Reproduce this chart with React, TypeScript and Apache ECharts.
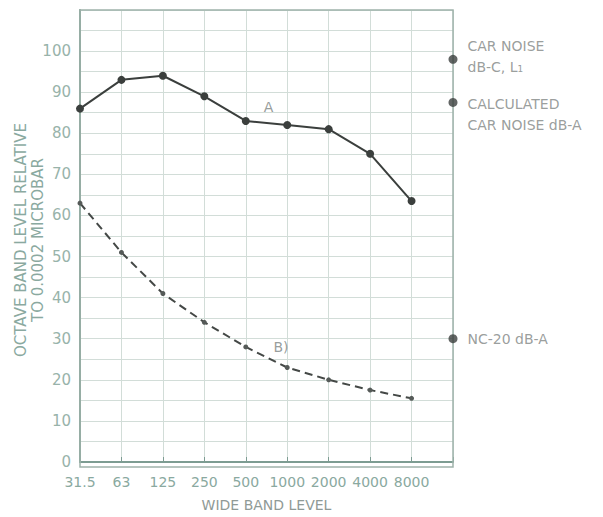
import React, { useEffect, useRef } from "react";
import * as echarts from "echarts";

const categories = ["31.5", "63", "125", "250", "500", "1000", "2000", "4000", "8000"];
const seriesA = [86, 93, 94, 89, 83, 82, 81, 75, 63.5];
const seriesB = [63, 51, 41, 34, 28, 23, 20, 17.5, 15.5];
const sideLabels = ["CAR NOISE\ndB-C, L₁", "CALCULATED\nCAR NOISE dB-A", "NC-20 dB-A"];
const sideValues = [98, 87.5, 30];
const yTicks = [0, 10, 20, 30, 40, 50, 60, 70, 80, 90, 100];
const annotations = [
  { text: "A", x: 4.55, y: 86.5 },
  { text: "B)", x: 4.85, y: 28 },
];

const TEXT = "#8aa9a0";
const AXIS = "#7d9c92";
const GRID = "#d2ddd8";
const FONT = "DejaVu Sans, sans-serif";

export default function App() {
  const ref = useRef<HTMLDivElement>(null);
  useEffect(() => {
    if (!ref.current) return;
    const chart = echarts.init(ref.current, undefined, { renderer: "svg" });
    chart.setOption({
      animation: false,
      backgroundColor: "#ffffff",
      textStyle: { fontFamily: FONT },
      grid: { left: 80, right: 150, top: 10, bottom: 50 },
      xAxis: {
        type: "value",
        min: 0,
        max: 9,
        interval: 1,
        name: "WIDE BAND LEVEL",
        nameLocation: "middle",
        nameGap: 36,
        nameTextStyle: { color: "#8f9a96", fontSize: 14, fontFamily: FONT },
        axisLine: { show: true, lineStyle: { color: AXIS, width: 2 } },
        axisTick: { show: true, length: 5, inside: true, lineStyle: { color: AXIS } },
        axisLabel: {
          color: TEXT,
          fontSize: 14,
          margin: 13,
          formatter: (v: number) => (categories[v] !== undefined ? categories[v] : ""),
        },
        splitLine: { show: true, lineStyle: { color: GRID, width: 1 } },
      },
      yAxis: {
        type: "value",
        min: 0,
        max: 110,
        interval: 5,
        axisLine: { show: true, lineStyle: { color: AXIS, width: 2 } },
        axisTick: { show: false },
        axisLabel: {
          color: "#98b3aa",
          fontSize: 15,
          margin: 9,
          formatter: (v: number) => (yTicks.includes(v) ? String(v) : ""),
        },
        splitLine: { show: true, lineStyle: { color: GRID, width: 1 } },
      },
      graphic: [
        {
          type: "rect",
          shape: { x: 80, y: 10, width: 373, height: 457 },
          style: { fill: "none", stroke: "#9fb2aa", lineWidth: 1.5 },
          silent: true,
          z: 1,
        },
        {
          type: "text",
          x: 21,
          y: 240,
          rotation: Math.PI / 2,
          style: {
            text: "OCTAVE BAND LEVEL RELATIVE",
            fill: TEXT,
            font: `15px ${FONT}`,
            align: "center",
            verticalAlign: "middle",
          },
        },
        {
          type: "text",
          x: 38,
          y: 240,
          rotation: Math.PI / 2,
          style: {
            text: "TO 0.0002 MICROBAR",
            fill: TEXT,
            font: `15px ${FONT}`,
            align: "center",
            verticalAlign: "middle",
          },
        },
      ],
      series: [
        {
          type: "line",
          data: seriesA.map((v, i) => [i, v]),
          lineStyle: { color: "#3b3f3d", width: 2 },
          itemStyle: { color: "#3b3f3d" },
          symbol: "circle",
          symbolSize: 8,
          z: 5,
        },
        {
          type: "line",
          data: seriesB.map((v, i) => [i, v]),
          lineStyle: { color: "#444846", width: 2, type: [8, 5] },
          itemStyle: { color: "#555a58" },
          symbol: "circle",
          symbolSize: 5,
          z: 5,
        },
        {
          type: "scatter",
          data: sideValues.map((v, i) => ({
            value: [9, v],
            label: {
              show: true,
              position: "right",
              distance: 10,
              formatter: sideLabels[i],
              color: "#7f8583",
              fontSize: 14,
              lineHeight: 21,
              offset: i === 1 ? [0, 12] : i === 0 ? [0, -3] : [0, 0],
            },
          })),
          symbol: "circle",
          symbolSize: 9,
          itemStyle: { color: "#3b3f3d" },
          clip: false,
          z: 6,
        },
        {
          type: "scatter",
          data: annotations.map((a) => ({
            value: [a.x, a.y],
            label: {
              show: true,
              position: "inside",
              formatter: a.text,
              color: "#7c8482",
              fontSize: 14,
            },
          })),
          symbolSize: 1,
          itemStyle: { color: "transparent" },
          z: 6,
        },
      ],
    });
    return () => chart.dispose();
  }, []);
  return (
    <div
      ref={ref}
      style={{ position: "absolute", left: 0, top: 0, width: 603, height: 517 }}
    />
  );
}
